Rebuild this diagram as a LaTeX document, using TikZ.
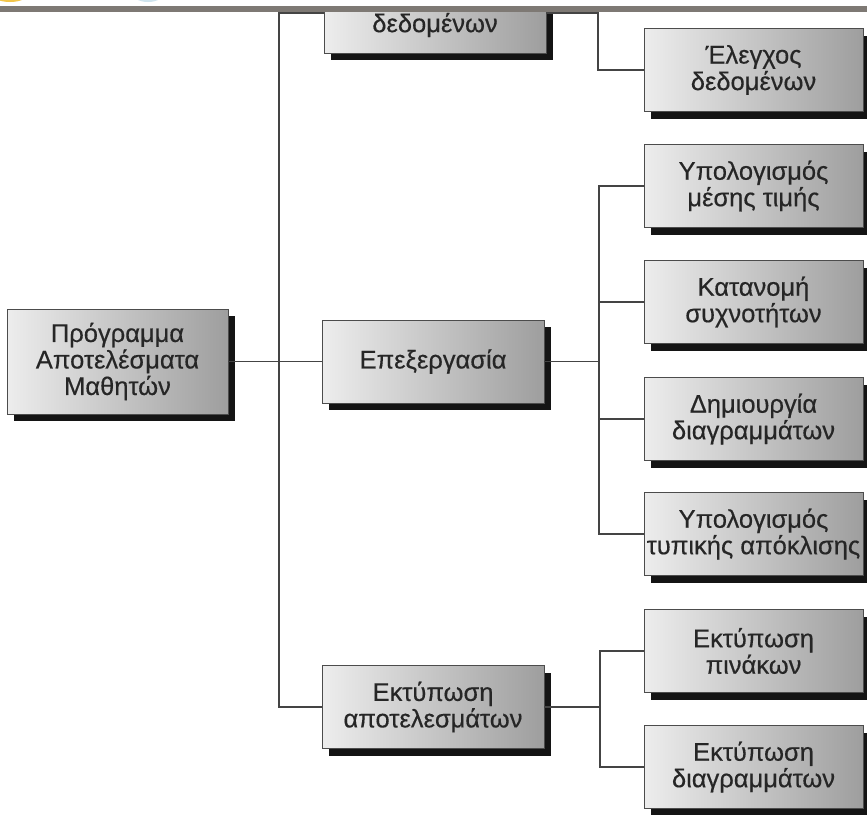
\documentclass[tikz,border=0pt]{standalone}
\usepackage{fontspec}
\setmainfont{Liberation Sans}[FakeBold=0.4]
\usetikzlibrary{shadows}
\definecolor{ink}{HTML}{262626}
\definecolor{wirec}{HTML}{444444}
\definecolor{edgec}{HTML}{4C4C4C}
\definecolor{shadec}{HTML}{141414}
\definecolor{boxlight}{HTML}{EDEDED}
\definecolor{boxmid}{HTML}{D3D3D3}
\definecolor{boxdark}{HTML}{9E9E9E}
\definecolor{barc}{HTML}{7E7974}
\definecolor{yel}{HTML}{F2C54A}
\definecolor{blu}{HTML}{CFE4EE}
\tikzset{
  box/.style={draw=edgec, line width=0.9pt, left color=boxlight, middle color=boxmid, right color=boxdark,
    text=ink, align=center, inner sep=0pt, outer sep=0pt,
    font=\fontsize{25.5}{26.5}\selectfont,
    general shadow={fill=shadec, shadow xshift=7pt, shadow yshift=-7pt}},
  leaf/.style={box, minimum width=219pt, minimum height=83pt},
  midbox/.style={box, minimum width=222pt, minimum height=83pt},
  wire/.style={draw=wirec, line width=1.4pt},
  lbl/.style={text=ink, inner sep=0pt, font=\fontsize{25.5}{26.5}\selectfont}
}
\begin{document}
\begin{tikzpicture}[x=1pt, y=-1pt]
\useasboundingbox (0,0) rectangle (867,814);
\clip (0,0) rectangle (867,814);
\fill[white] (0,0) rectangle (867,814);

% junction coordinates
\coordinate (lt) at (279,13);
\coordinate (rt) at (598,13);
\coordinate (pj) at (599,361.5);
\coordinate (oj) at (600,707);

% boxes
\node[box, minimum width=221pt, minimum height=105pt] (root) at (117.5,361.5)
  {Πρόγραμμα\\Αποτελέσματα\\Μαθητών};
\node[midbox, minimum height=80pt] (top) at (435,13) {};
\node[lbl] (toplbl) at (435,25) {δεδομένων};
\node[midbox] (proc) at (433,361.5) {Επεξεργασία};
\node[midbox] (out) at (433,707) {Εκτύπωση\\αποτελεσμάτων};

\node[leaf] (chk) at (753.5,70) {Έλεγχος\\δεδομένων};
\node[leaf] (c1) at (753.5,186) {Υπολογισμός\\μέσης τιμής};
\node[leaf] (c2) at (753.5,302) {Κατανομή\\συχνοτήτων};
\node[leaf] (c3) at (753.5,419) {Δημιουργία\\διαγραμμάτων};
\node[leaf] (c4) at (753.5,534) {Υπολογισμός\\τυπικής απόκλισης};
\node[leaf] (p1) at (753.5,651) {Εκτύπωση\\πινάκων};
\node[leaf] (p2) at (753.5,767) {Εκτύπωση\\διαγραμμάτων};

% connectors
\draw[wire] (root.east) -- (proc.west);
\draw[wire] (top.west) -- (lt) |- (out.west);
\draw[wire] (top.east) -- (rt) |- (chk.west);
\draw[wire] (proc.east) -- (pj);
\draw[wire] (c1.west) -| (pj) |- (c4.west);
\draw[wire] (c2.west) -- (c2.west -| pj);
\draw[wire] (c3.west) -- (c3.west -| pj);
\draw[wire] (out.east) -- (oj);
\draw[wire] (p1.west) -| (oj) |- (p2.west);

% top strip
\fill[white] (0,0) rectangle (867,6);
\begin{scope}
  \clip (0,0) rectangle (867,6);
  \fill[yel] (10,-6) ellipse [x radius=18, y radius=8];
  \fill[blu] (148,-6) ellipse [x radius=15, y radius=8];
\end{scope}
\fill[barc] (0,6) rectangle (867,11.5);
\end{tikzpicture}
\end{document}
